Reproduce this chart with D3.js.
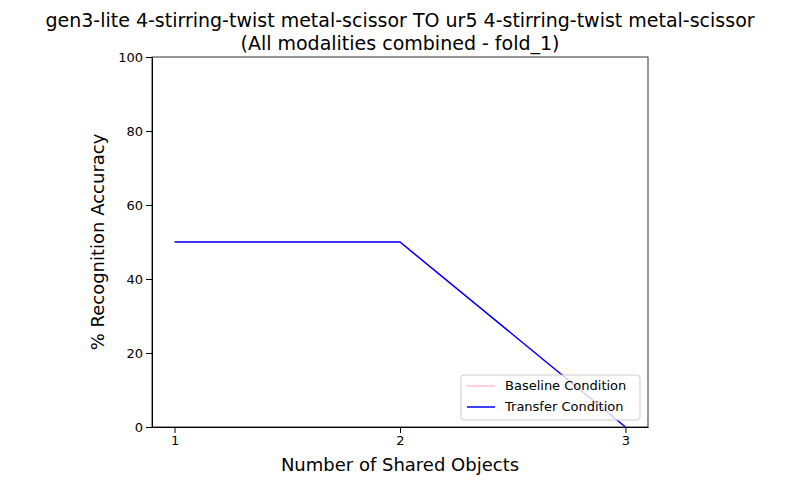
<!DOCTYPE html>
<html><head><meta charset="utf-8">
<script src="https://cdn.jsdelivr.net/npm/d3@7"></script>
<style>body{margin:0;background:#fff}text{font-family:"DejaVu Sans",sans-serif}</style>
</head><body>
<script>
const sharedObjects = [1, 2, 3]
const baselineAcc = [50, 50, 0]
const transferAcc = [50, 50, 0]
const yTicks = [0, 20, 40, 60, 80, 100]
const titleLines = ['gen3-lite 4-stirring-twist metal-scissor TO ur5 4-stirring-twist metal-scissor',
  '(All modalities combined - fold_1)']

const W = 798, H = 485
const m = { left: 152, right: 648, top: 57, bottom: 427 }
const svg = d3.select('body').append('svg').attr('width', W).attr('height', H)
const x = d3.scaleLinear().domain([0.9, 3.1]).range([m.left, m.right])
const y = d3.scaleLinear().domain([0, 100]).range([m.bottom, m.top])

svg.append('g').attr('transform', `translate(0,${m.bottom})`)
  .call(d3.axisBottom(x).tickValues(sharedObjects).tickFormat(d3.format('d')).tickSizeOuter(0))
  .call(g => g.attr('font-size', 13).attr('font-family', null))
  .call(g => g.selectAll('text').attr('fill', '#000'))
svg.append('g').attr('transform', `translate(${m.left},0)`)
  .call(d3.axisLeft(y).tickValues(yTicks).tickSizeOuter(0))
  .call(g => g.attr('font-size', 13).attr('font-family', null))
  .call(g => g.selectAll('text').attr('fill', '#000'))
svg.append('rect').attr('x', m.left).attr('y', m.top).attr('width', m.right - m.left)
  .attr('height', m.bottom - m.top).attr('fill', 'none').attr('stroke', '#000').attr('stroke-width', 0.8)

const line = d3.line().x((d, i) => x(sharedObjects[i])).y(d => y(d))
svg.append('path').datum(baselineAcc).attr('d', line).attr('fill', 'none').attr('stroke', 'pink').attr('stroke-width', 1.5)
svg.append('path').datum(transferAcc).attr('d', line).attr('fill', 'none').attr('stroke', 'blue').attr('stroke-width', 1.5)

titleLines.forEach((t, i) => svg.append('text').attr('x', 400).attr('y', 27 + i * 23)
  .attr('text-anchor', 'middle').attr('font-size', 19).text(t))
svg.append('text').attr('x', 400).attr('y', 471).attr('text-anchor', 'middle').attr('font-size', 18).text('Number of Shared Objects')
svg.append('text').attr('transform', `translate(104,${(m.top + m.bottom) / 2}) rotate(-90)`)
  .attr('text-anchor', 'middle').attr('font-size', 18).text('% Recognition Accuracy')

const lg = svg.append('g').attr('transform', 'translate(461,375)')
lg.append('rect').attr('width', 179).attr('height', 45).attr('rx', 3).attr('fill', '#fff')
  .attr('fill-opacity', 0.8).attr('stroke', '#ccc')
const items = [['Baseline Condition', 'pink'], ['Transfer Condition', 'blue']]
items.forEach(([lab, c], i) => {
  lg.append('line').attr('x1', 6).attr('x2', 34).attr('y1', 11 + i * 21).attr('y2', 11 + i * 21)
    .attr('stroke', c).attr('stroke-width', 1.5)
  lg.append('text').attr('x', 44).attr('y', 15 + i * 21).attr('font-size', 13).text(lab)
})
</script>
</body></html>
